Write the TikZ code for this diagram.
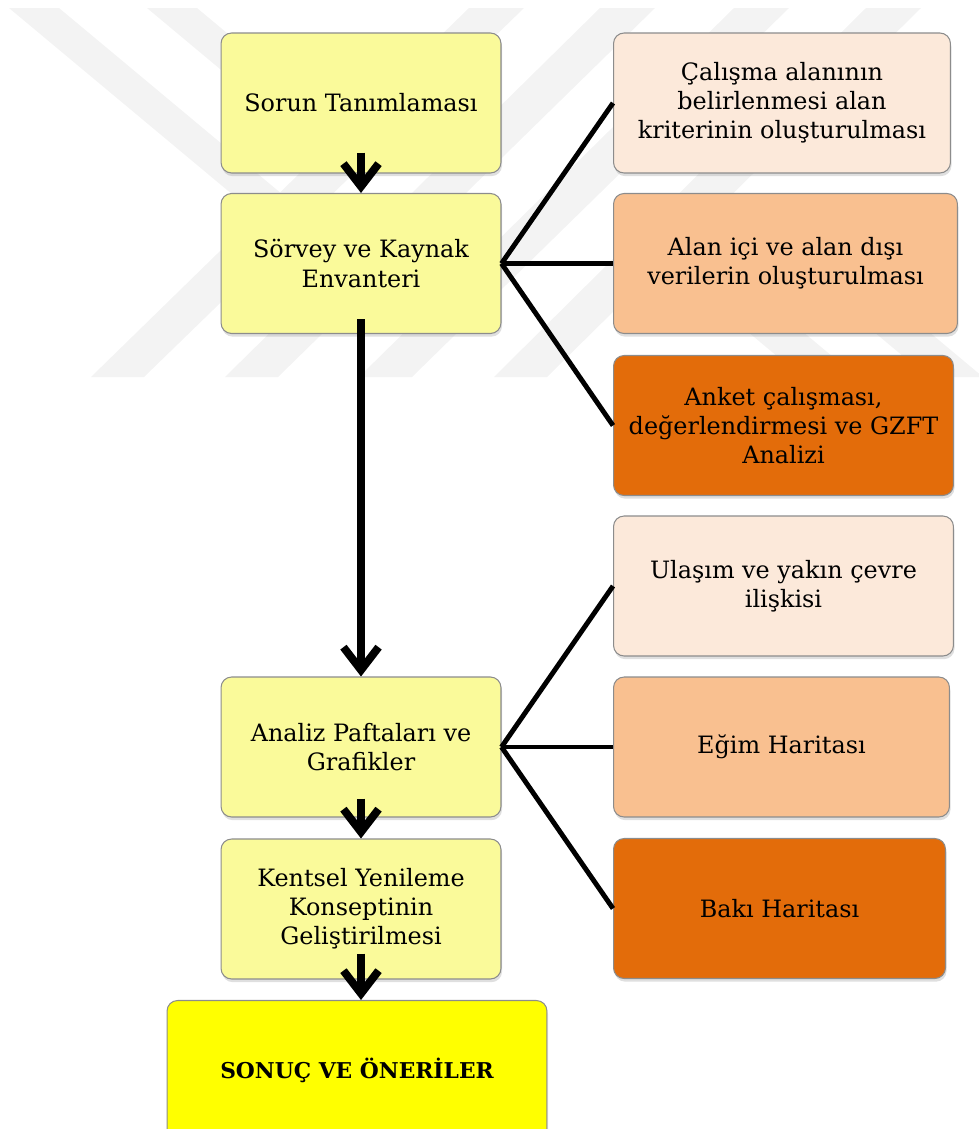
\documentclass[tikz,border=0pt]{standalone}
\usepackage{fontspec}
\setmainfont{DejaVu Serif}
\usetikzlibrary{arrows.meta,shadows}
\definecolor{stepyellow}{HTML}{FAFA9A}
\definecolor{endyellow}{HTML}{FFFF00}
\definecolor{peachlight}{HTML}{FCE9DA}
\definecolor{peachmid}{HTML}{F9C090}
\definecolor{orangedark}{HTML}{E36C0A}
\definecolor{markgray}{HTML}{F3F3F3}
\tikzset{
  box/.style={draw=black!45, line width=0.6pt, rounded corners=6pt,
    align=center, inner sep=0pt, font=\fontsize{13.6}{16.6}\selectfont,
    drop shadow={opacity=0.25, shadow xshift=0.6pt, shadow yshift=-1.8pt}},
  stepbox/.style={box, fill=stepyellow, minimum width=5.6cm, minimum height=2.8cm},
  sidebox/.style={box, anchor=west, minimum height=2.8cm},
  flow/.style={line width=4.5pt, -{Straight Barb[length=13pt, width=20pt]}},
  fan/.style={line width=2.8pt},
}

\begin{document}
\begin{tikzpicture}[x=0.02cm, y=-0.02cm]
\useasboundingbox (0,0) rectangle (979,1129);
\clip (0,0) rectangle (979,1129);
% faint watermark bands in the background
\fill[markgray] (9,8) -- (59,8) -- (325,230) -- (275,230) -- cycle;
\fill[markgray] (147,8) -- (197,8) -- (367,150) -- (317,150) -- cycle;
\foreach \xt/\xb in {469/91, 600/225, 734/359, 866/494}{
  \fill[markgray] (\xt,8) -- (\xt+55,8) -- (\xb+53,377) -- (\xb,377) -- cycle;
}
\fill[markgray] (626,230) -- (681,230) -- (857,377) -- (802,377) -- cycle;
\fill[markgray] (752,230) -- (807,230) -- (983,377) -- (928,377) -- cycle;

% main steps (left column)
\node[stepbox] (s1) at (361,103) {Sorun Tanımlaması};
\node[stepbox] (s2) at (361,263.5) {Sörvey ve Kaynak\\Envanteri};
\node[stepbox] (s3) at (361,747) {Analiz Paftaları ve\\Grafikler};
\node[stepbox] (s4) at (361,909) {Kentsel Yenileme\\Konseptinin\\Geliştirilmesi};
\node[box, fill=endyellow, minimum width=7.6cm, minimum height=2.78cm,
  font=\fontsize{12.4}{16}\selectfont\bfseries]
  (s5) at (357,1070) {SONUÇ VE ÖNERİLER};

% sub steps (right column)
\node[sidebox, fill=peachlight, minimum width=6.74cm] (r1) at (613,103)
  {Çalışma alanının\\belirlenmesi alan\\kriterinin oluşturulması};
\node[sidebox, fill=peachmid, minimum width=6.88cm] (r2) at (613,263.5)
  {Alan içi ve alan dışı\\verilerin oluşturulması};
\node[sidebox, fill=orangedark, minimum width=6.8cm] (r3) at (613,425.5)
  {Anket çalışması,\\değerlendirmesi ve GZFT\\Analizi};
\node[sidebox, fill=peachlight, minimum width=6.8cm] (r4) at (613,586)
  {Ulaşım ve yakın çevre\\ilişkisi};
\node[sidebox, fill=peachmid, minimum width=6.72cm] (r5) at (613,747)
  {Eğim Haritası};
\node[sidebox, fill=orangedark, minimum width=6.64cm] (r6) at (613,908.5)
  {Bakı Haritası};

% fans
\foreach \r in {r1,r2,r3}{
  \draw[fan] (s2.east) -- (\r.west);
}
\foreach \r in {r4,r5,r6}{
  \draw[fan] (s3.east) -- (\r.west);
}

% flow arrows
\draw[flow] ([yshift=0.42cm]s1.south) -- (s2.north);
\draw[flow] ([yshift=0.3cm]s2.south) -- (s3.north);
\draw[flow] ([yshift=0.38cm]s3.south) -- (s4.north);
\draw[flow] ([yshift=0.52cm]s4.south) -- (s4.south |- s5.north);
\end{tikzpicture}
\end{document}
